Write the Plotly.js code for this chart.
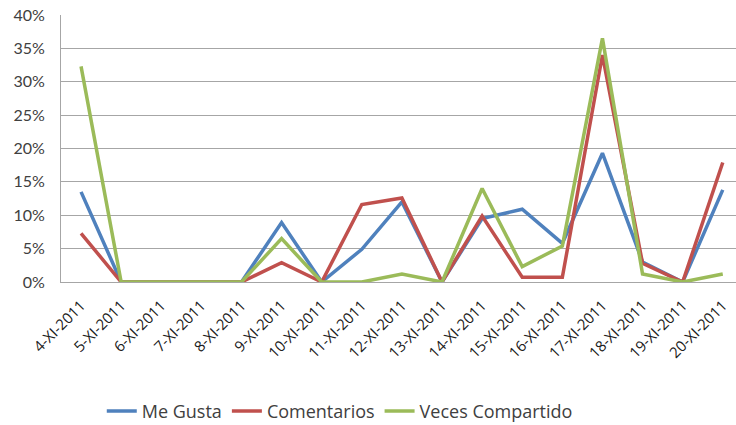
<!DOCTYPE html>
<html><head><meta charset="utf-8">
<script src="https://cdn.plot.ly/plotly-3.0.1.min.js"></script>
<style>html,body{margin:0;padding:0;background:#fff;overflow:hidden}#chart{width:736px;height:425px}</style>
</head><body><div id="chart"></div>
<script>
const categories = ["4-XI-2011","5-XI-2011","6-XI-2011","7-XI-2011","8-XI-2011","9-XI-2011","10-XI-2011","11-XI-2011","12-XI-2011","13-XI-2011","14-XI-2011","15-XI-2011","16-XI-2011","17-XI-2011","18-XI-2011","19-XI-2011","20-XI-2011"];
const meGusta = [13.5,0,0,0,0,8.9,0,4.9,12.0,0,9.5,10.9,5.8,19.3,3.0,0,13.8];
const comentarios = [7.3,0,0,0,0,2.9,0,11.6,12.6,0,9.9,0.7,0.7,34.0,2.8,0,17.9];
const vecesCompartido = [32.3,0,0,0,0,6.5,0,0,1.2,0,14.0,2.3,5.4,36.5,1.2,0,1.2];
const yTickVals = [0,5,10,15,20,25,30,35,40];
const yTickText = ["0%","5%","10%","15%","20%","25%","30%","35%","40%"];

function tr(name, y, color){
  return {type:'scatter', mode:'lines', name:name, x:categories, y:y,
    line:{color:color, width:3.5}, hoverinfo:'skip'};
}
const data = [
  tr("Me Gusta", meGusta, "#4F81BD"),
  tr("Comentarios", comentarios, "#C0504D"),
  tr("Veces Compartido", vecesCompartido, "#9BBB59")
];
const layout = {
  width:736, height:425,
  margin:{l:61, r:0, t:15, b:143, autoexpand:false},
  paper_bgcolor:'#fff', plot_bgcolor:'#fff',
  font:{family:"'Open Sans', sans-serif", color:'#404040', size:15},
  showlegend:true,
  legend:{orientation:'h', x:0.413, xanchor:'center', yref:'container', y:0.032, yanchor:'middle',
    itemwidth:30,
    font:{family:"'Open Sans', sans-serif", size:18, color:'#404040'}, traceorder:'normal'},
  xaxis:{type:'category', range:[-0.5,16.33], tickangle:-45, showgrid:false,
    showline:true, linecolor:'#A6A6A6', linewidth:1, ticks:'', zeroline:false,
    ticklabelstandoff:8, automargin:false,
    tickfont:{family:"'Open Sans', sans-serif", size:15, color:'#202020'}},
  yaxis:{range:[0,40], tickvals:yTickVals, ticktext:yTickText, showgrid:true,
    gridcolor:'#A6A6A6', gridwidth:1, showline:true, linecolor:'#A6A6A6', ticks:'',
    zeroline:false, ticklabelstandoff:12, automargin:false,
    tickfont:{family:"Lato, sans-serif", size:16, color:'#404040'}}
};
Plotly.newPlot('chart', data, layout, {staticPlot:true, displayModeBar:false});
</script></body></html>
